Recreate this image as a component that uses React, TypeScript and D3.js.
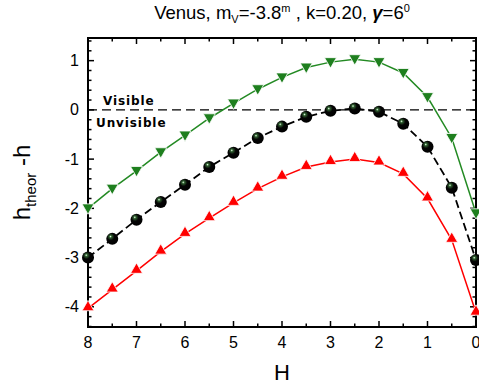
import React, { useEffect, useRef } from 'react';
import * as d3 from 'd3';

const hValues = [8, 7.5, 7, 6.5, 6, 5.5, 5, 4.5, 4, 3.5, 3, 2.5, 2, 1.5, 1, 0.5, 0];
const blackSeries = [-3.0, -2.62, -2.23, -1.87, -1.52, -1.16, -0.87, -0.57, -0.34, -0.14, -0.02, 0.03, -0.04, -0.28, -0.75, -1.58, -3.05];
const greenSeries = [-2.0, -1.6, -1.24, -0.86, -0.52, -0.17, 0.13, 0.42, 0.66, 0.86, 0.97, 1.03, 0.97, 0.75, 0.26, -0.57, -2.1];
const redSeries = [-4.03, -3.65, -3.27, -2.88, -2.52, -2.2, -1.89, -1.6, -1.36, -1.16, -1.06, -1.0, -1.07, -1.3, -1.8, -2.64, -4.12];
const xTicks = [8, 7, 6, 5, 4, 3, 2, 1, 0];
const yTicks = [1, 0, -1, -2, -3, -4];

export default function App() {
  const ref = useRef<SVGSVGElement>(null);

  useEffect(() => {
    const svg = d3.select(ref.current);
    svg.selectAll('*').remove();

    const left = 88, right = 476, top = 38, bottom = 327;
    const x = d3.scaleLinear().domain([8, 0]).range([left, right]);
    const y = d3.scaleLinear().domain([-4.41, 1.46]).range([bottom, top]);
    const font = 'Arial, "Liberation Sans", sans-serif';

    const defs = svg.append('defs');
    const grad = defs.append('radialGradient')
      .attr('id', 'ball')
      .attr('cx', '40%').attr('cy', '35%').attr('r', '60%')
      .attr('fx', '35%').attr('fy', '30%');
    grad.append('stop').attr('offset', '0%').attr('stop-color', '#e8ffe8');
    grad.append('stop').attr('offset', '18%').attr('stop-color', '#2f5f2f');
    grad.append('stop').attr('offset', '50%').attr('stop-color', '#050505');
    grad.append('stop').attr('offset', '100%').attr('stop-color', '#000');

    // frame
    svg.append('rect')
      .attr('x', left).attr('y', top)
      .attr('width', right - left).attr('height', bottom - top)
      .attr('fill', 'none').attr('stroke', '#000').attr('stroke-width', 2);

    // ticks (inward, all four sides)
    const xMinor = d3.range(0, 8.01, 0.5);
    const yMinor = d3.range(-4.4, 1.45, 0.2).map(v => Math.round(v * 10) / 10);
    const tk = svg.append('g').attr('stroke', '#000').attr('stroke-width', 1.5);
    xMinor.forEach(v => {
      const len = Number.isInteger(v) ? 6 : 3.5;
      tk.append('line').attr('x1', x(v)).attr('x2', x(v)).attr('y1', bottom).attr('y2', bottom - len);
      tk.append('line').attr('x1', x(v)).attr('x2', x(v)).attr('y1', top).attr('y2', top + len);
    });
    yMinor.forEach(v => {
      const len = Number.isInteger(v) ? 6 : 3.5;
      tk.append('line').attr('y1', y(v)).attr('y2', y(v)).attr('x1', left).attr('x2', left + len);
      tk.append('line').attr('y1', y(v)).attr('y2', y(v)).attr('x1', right).attr('x2', right - len);
    });

    svg.append('g').selectAll('text').data(xTicks).enter().append('text')
      .attr('x', d => x(d)).attr('y', bottom + 21)
      .attr('text-anchor', 'middle').attr('font-family', font).attr('font-size', 16)
      .text(d => d);
    svg.append('g').selectAll('text').data(yTicks).enter().append('text')
      .attr('x', left - 9).attr('y', d => y(d) + 5.5)
      .attr('text-anchor', 'end').attr('font-family', font).attr('font-size', 16)
      .text(d => d);

    // zero line
    svg.append('line')
      .attr('x1', left).attr('x2', right).attr('y1', y(0)).attr('y2', y(0))
      .attr('stroke', '#000').attr('stroke-width', 1.2).attr('stroke-dasharray', '9,5');

    svg.append('text').attr('x', 103).attr('y', y(0) - 5)
      .attr('font-family', '"DejaVu Sans", Verdana, sans-serif').attr('font-weight', 'bold')
      .attr('font-size', 12).attr('letter-spacing', 0.9).text('Visible');
    svg.append('text').attr('x', 96).attr('y', y(0) + 17)
      .attr('font-family', '"DejaVu Sans", Verdana, sans-serif').attr('font-weight', 'bold')
      .attr('font-size', 12).attr('letter-spacing', 0.9).text('Unvisible');

    const line = d3.line<number>()
      .x((d, i) => x(hValues[i]))
      .y(d => y(d));

    svg.append('path').datum(greenSeries).attr('d', line)
      .attr('fill', 'none').attr('stroke', '#238a23').attr('stroke-width', 1.5);
    svg.append('path').datum(redSeries).attr('d', line)
      .attr('fill', 'none').attr('stroke', '#ff0000').attr('stroke-width', 1.5);
    svg.append('path').datum(blackSeries).attr('d', line)
      .attr('fill', 'none').attr('stroke', '#000').attr('stroke-width', 1.8)
      .attr('stroke-dasharray', '8,4');

    const tri = d3.symbol().type(d3.symbolTriangle).size(62);
    svg.append('g').selectAll('path').data(greenSeries).enter().append('path')
      .attr('d', tri)
      .attr('transform', (d, i) => `translate(${x(hValues[i])},${y(d) - 1}) rotate(180)`)
      .attr('fill', '#1e7f1e').attr('stroke', '#fff').attr('stroke-width', 0.8);
    svg.append('g').selectAll('path').data(redSeries).enter().append('path')
      .attr('d', tri)
      .attr('transform', (d, i) => `translate(${x(hValues[i])},${y(d) - 1})`)
      .attr('fill', '#ff0000').attr('stroke', '#fff').attr('stroke-width', 0.8);
    svg.append('g').selectAll('circle').data(blackSeries).enter().append('circle')
      .attr('cx', (d, i) => x(hValues[i])).attr('cy', d => y(d))
      .attr('r', 6).attr('fill', 'url(#ball)');

    // title
    const title = svg.append('text').attr('x', 282).attr('y', 19)
      .attr('text-anchor', 'middle').attr('font-family', font).attr('font-size', 18.5);
    title.append('tspan').text('Venus, m');
    title.append('tspan').attr('font-size', 11).attr('dy', 4).text('V');
    title.append('tspan').attr('dy', -4).text('=-3.8');
    title.append('tspan').attr('font-size', 11).attr('dy', -7).text('m');
    title.append('tspan').attr('dy', 7).text(' , k=0.20, ');
    title.append('tspan').attr('font-style', 'italic').attr('font-weight', 'bold').text('γ');
    title.append('tspan').text('=6');
    title.append('tspan').attr('font-size', 11).attr('dy', -7).text('0');

    // axis labels
    svg.append('text').attr('x', 282).attr('y', 380)
      .attr('text-anchor', 'middle').attr('font-family', font).attr('font-size', 22)
      .text('H');
    const yl = svg.append('text')
      .attr('transform', `translate(30,${(top + bottom) / 2}) rotate(-90)`)
      .attr('text-anchor', 'middle').attr('font-family', font).attr('font-size', 24);
    yl.append('tspan').text('h');
    yl.append('tspan').attr('font-size', 15).attr('dy', 6).text('theor');
    yl.append('tspan').attr('dy', -6).text(' -h');
  }, []);

  return (
    <svg ref={ref} width={479} height={387}
      style={{ position: 'absolute', left: 0, top: 0, background: '#fff' }} />
  );
}
